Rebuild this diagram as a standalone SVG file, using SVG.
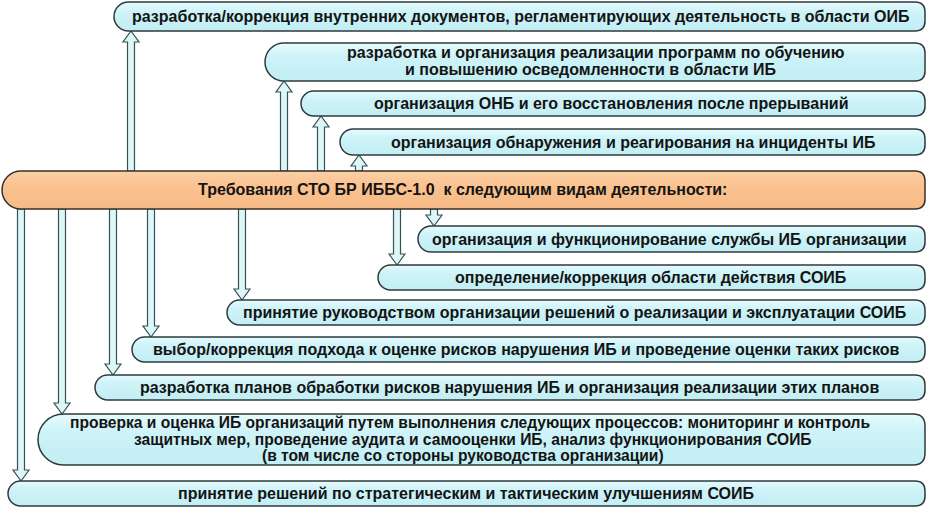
<svg xmlns="http://www.w3.org/2000/svg" width="927" height="508" viewBox="0 0 927 508">
<defs>
<linearGradient id="gb" x1="0" y1="0" x2="0" y2="1"><stop offset="0" stop-color="#E6FBFD"/><stop offset="0.35" stop-color="#CDF3F8"/><stop offset="1" stop-color="#C2EEF4"/></linearGradient>
<linearGradient id="go" x1="0" y1="0" x2="0" y2="1"><stop offset="0" stop-color="#FCCFA6"/><stop offset="0.4" stop-color="#FAC290"/><stop offset="1" stop-color="#F6BA86"/></linearGradient>
</defs>
<style>
.b{fill:url(#gb);stroke:#2E3B3B;stroke-width:1.5}
.m{fill:url(#go);stroke:#3A3028;stroke-width:1.5}
.a{fill:#DDF6F8;stroke:#365252;stroke-width:1.2;stroke-linejoin:miter}
text{font-family:"Liberation Sans",Arial,sans-serif;font-weight:bold;font-size:16px;fill:#141414}
.s{font-size:15.6px}
</style>
<g id="connectors">
<polygon class="a" points="127.5,171 127.5,42 123,42 131,31 139,42 134.5,42 134.5,171"/>
<polygon class="a" points="280.5,171 280.5,92 276,92 284,81 292,92 287.5,92 287.5,171"/>
<polygon class="a" points="317.5,171 317.5,127 313,127 321,116 329,127 324.5,127 324.5,171"/>
<polygon class="a" points="355.5,171 355.5,166 351,166 359,155 367,166 362.5,166 362.5,171"/>
<polygon class="a" points="430.5,209 430.5,215 426,215 434,226 442,215 437.5,215 437.5,209"/>
<polygon class="a" points="393.5,209 393.5,254 389,254 397,265 405,254 400.5,254 400.5,209"/>
<polygon class="a" points="238.5,209 238.5,289 234,289 242,300 250,289 245.5,289 245.5,209"/>
<polygon class="a" points="147.5,209 147.5,326 143,326 151,337 159,326 154.5,326 154.5,209"/>
<polygon class="a" points="109.5,209 109.5,364 105,364 113,375 121,364 116.5,364 116.5,209"/>
<polygon class="a" points="58.5,209 58.5,403 54,403 62,414 70,403 65.5,403 65.5,209"/>
<polygon class="a" points="17.5,209 17.5,470 13,470 21,481 29,470 24.5,470 24.5,209"/>
</g>
<g id="n1"><path class="b" d="M128.5,2 H915 Q925,2 925,12 V21 Q925,31 915,31 H128.5 A14.5,14.5 0 0 1 128.5,2 Z"/>
<text x="132" y="22">разработка/коррекция внутренних документов, регламентирующих деятельность в области ОИБ</text></g>
<g id="n2"><path class="b" d="M284,43 H915 Q925,43 925,53 V71 Q925,81 915,81 H284 A19,19 0 0 1 284,43 Z"/>
<text x="347" y="58">разработка и организация реализации программ по обучению</text>
<text x="405" y="75">и повышению осведомленности в области ИБ</text></g>
<g id="n3"><path class="b" d="M313.5,91 H915 Q925,91 925,101 V106 Q925,116 915,116 H313.5 A12.5,12.5 0 0 1 313.5,91 Z"/>
<text x="374" y="109">организация ОНБ и его восстановления после прерываний</text></g>
<g id="n4"><path class="b" d="M353,129 H915 Q925,129 925,139 V145 Q925,155 915,155 H353 A13,13 0 0 1 353,129 Z"/>
<text x="391" y="148">организация обнаружения и реагирования на инциденты ИБ</text></g>
<g id="main"><path class="m" d="M21,171 H915 Q925,171 925,181 V199 Q925,209 915,209 H21 A19,19 0 0 1 21,171 Z"/>
<text x="198" y="195" xml:space="preserve">Требования СТО БР ИББС-1.0  к следующим видам деятельности:</text></g>
<g id="n5"><path class="b" d="M431,226 H915 Q925,226 925,236 V242 Q925,252 915,252 H431 A13,13 0 0 1 431,226 Z"/>
<text x="432" y="245">организация и функционирование службы ИБ организации</text></g>
<g id="n6"><path class="b" d="M390.5,265 H915 Q925,265 925,275 V280 Q925,290 915,290 H390.5 A12.5,12.5 0 0 1 390.5,265 Z"/>
<text x="455" y="283">определение/коррекция области действия СОИБ</text></g>
<g id="n7"><path class="b" d="M239.5,300 H915 Q925,300 925,310 V315 Q925,325 915,325 H239.5 A12.5,12.5 0 0 1 239.5,300 Z"/>
<text x="243" y="318">принятие руководством организации решений о реализации и эксплуатации СОИБ</text></g>
<g id="n8"><path class="b" d="M144.5,337 H915 Q925,337 925,347 V352 Q925,362 915,362 H144.5 A12.5,12.5 0 0 1 144.5,337 Z"/>
<text x="153" y="355">выбор/коррекция подхода к оценке рисков нарушения ИБ и проведение оценки таких рисков</text></g>
<g id="n9"><path class="b" d="M107.5,375 H915 Q925,375 925,385 V390 Q925,400 915,400 H107.5 A12.5,12.5 0 0 1 107.5,375 Z"/>
<text x="140" y="393">разработка планов обработки рисков нарушения ИБ и организация реализации этих планов</text></g>
<g id="n10"><path class="b" d="M63.5,414 H913 Q925,414 925,426 V453 Q925,465 913,465 H63.5 A25.5,25.5 0 0 1 63.5,414 Z"/>
<text class="s" x="70" y="428">проверка и оценка ИБ организаций путем выполнения следующих процессов: мониторинг и контроль</text>
<text class="s" x="134" y="444.5">защитных мер, проведение аудита и самооценки ИБ, анализ функционирования СОИБ</text>
<text class="s" x="262" y="461">(в том числе со стороны руководства организации)</text></g>
<g id="n11"><path class="b" d="M20.5,481 H915 Q925,481 925,491 V496 Q925,506 915,506 H20.5 A12.5,12.5 0 0 1 20.5,481 Z"/>
<text x="178" y="499">принятие решений по стратегическим и тактическим улучшениям СОИБ</text></g>
</svg>
